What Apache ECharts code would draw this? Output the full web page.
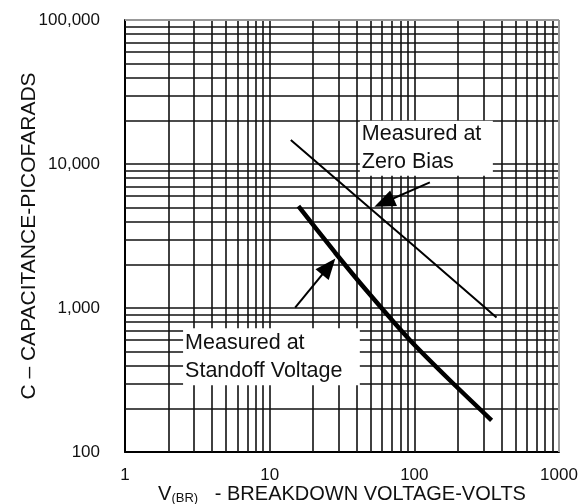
<!DOCTYPE html>
<html>
<head>
<meta charset="utf-8">
<script src="https://cdn.jsdelivr.net/npm/echarts@6/dist/echarts.min.js"></script>
<style>
  html, body { margin: 0; padding: 0; background: #fff; }
  #chart { width: 584px; height: 504px; }
</style>
</head>
<body>
<div id="chart"></div>
<script>
// breakdown voltage (V) vs capacitance (pF)
const zeroBias = [[14, 14700], [30, 7600], [60, 4170], [100, 2680], [200, 1470], [370, 860]];
const standoff = [[15.8, 5100], [28.3, 2430], [48, 1280], [93, 600], [176, 315], [342, 166]];

// log grid positions
const xGrid = [2, 3, 4, 5, 6, 7, 8, 9, 10, 20, 30, 40, 50, 60, 70, 80, 90, 100, 200, 300, 400, 500, 600, 700, 800, 900];
const yGrid = [200, 300, 400, 500, 600, 700, 800, 900, 1000, 2000, 3000, 4000, 5000, 6000, 7000, 8000, 9000,
  10000, 20000, 30000, 40000, 50000, 60000, 70000, 80000, 90000];

const xTickLabels = { 1: '1', 10: '10', 100: '100', 1000: '1000' };
const yTickLabels = { 100: '100', 1000: '1,000', 10000: '10,000', 100000: '100,000' };

// annotation boxes and arrows (data coords)
const zeroBiasBox = [[42, 19950], [349, 8300]];
const standoffBox = [[2.52, 722], [42, 291]];
const zeroBiasArrow = [[128, 7450], [61.7, 5400]];
const standoffArrow = [[15, 1005], [25.6, 1940]];

const font = 'Liberation Sans, Arial, sans-serif';
const chart = echarts.init(document.getElementById('chart'));

const gridLines = []
  .concat(xGrid.map((v) => ({ xAxis: v })))
  .concat(yGrid.map((v) => ({ yAxis: v })));
gridLines.push({ xAxis: 1000, lineStyle: { color: '#999', width: 2 } });
gridLines.push({ yAxis: 100000, lineStyle: { color: '#999', width: 2 } });

const option = {
  animation: false,
  backgroundColor: '#fff',
  grid: { left: 125, right: 25, top: 20, bottom: 52, containLabel: false, outerBoundsMode: 'none' },
  xAxis: {
    type: 'log',
    logBase: 10,
    min: 1,
    max: 1000,
    axisLine: { show: true, lineStyle: { color: '#000', width: 2 } },
    axisTick: { show: false },
    splitLine: { show: false },
    axisLabel: {
      margin: 15,
      color: '#111',
      fontSize: 17,
      fontFamily: font,
      formatter: (v) => xTickLabels[Math.round(v)] || ''
    },
    name: '{v|V}{s|(BR)}{t|   - BREAKDOWN VOLTAGE-VOLTS}',
    nameLocation: 'middle',
    nameMoveOverlap: false,
    nameGap: 32,
    nameTextStyle: {
      verticalAlign: 'top',
      rich: {
        v: { fontSize: 20, fontFamily: font, color: '#111' },
        s: { fontSize: 13, fontFamily: font, color: '#111', padding: [8, 0, 0, 0] },
        t: { fontSize: 20, fontFamily: font, color: '#111' }
      }
    }
  },
  yAxis: {
    type: 'log',
    logBase: 10,
    min: 100,
    max: 100000,
    axisLine: { show: true, lineStyle: { color: '#000', width: 2 } },
    axisTick: { show: false },
    splitLine: { show: false },
    axisLabel: {
      margin: 25,
      color: '#111',
      fontSize: 17,
      fontFamily: font,
      formatter: (v) => yTickLabels[Math.round(v)] || ''
    },
    name: 'C – CAPACITANCE-PICOFARADS',
    nameLocation: 'middle',
    nameMoveOverlap: false,
    nameGap: 85,
    nameTextStyle: { fontSize: 21, fontFamily: font, color: '#111' }
  },
  series: [
    {
      type: 'line',
      data: [],
      silent: true,
      markLine: {
        z: 1,
        silent: true,
        symbol: 'none',
        label: { show: false },
        lineStyle: { color: '#111', width: 1.6, type: 'solid' },
        data: gridLines
      }
    },
    {
      type: 'line',
      data: [],
      silent: true,
      markArea: {
        z: 3,
        silent: true,
        itemStyle: { color: '#fff' },
        label: {
          show: true,
          position: 'insideLeft',
          distance: 2,
          color: '#111',
          fontSize: 21.5,
          lineHeight: 28,
          fontFamily: font
        },
        data: [
          [{ name: 'Measured at\nZero Bias', coord: zeroBiasBox[0] }, { coord: zeroBiasBox[1] }],
          [{ name: 'Measured at\nStandoff Voltage', coord: standoffBox[0] }, { coord: standoffBox[1] }]
        ]
      }
    },
    {
      name: 'Zero Bias',
      type: 'line',
      z: 5,
      showSymbol: false,
      smooth: false,
      lineStyle: { color: '#000', width: 2 },
      data: zeroBias
    },
    {
      name: 'Standoff Voltage',
      type: 'line',
      z: 5,
      showSymbol: false,
      smooth: 0.2,
      lineStyle: { color: '#000', width: 4.5 },
      data: standoff
    },
    {
      type: 'line',
      data: [],
      silent: true,
      markLine: {
        z: 6,
        silent: true,
        symbol: ['none', 'triangle'],
        symbolSize: [17, 21],
        label: { show: false },
        lineStyle: { color: '#000', width: 2, type: 'solid' },
        itemStyle: { color: '#000' },
        data: [
          [{ coord: zeroBiasArrow[0] }, { coord: zeroBiasArrow[1] }],
          [{ coord: standoffArrow[0] }, { coord: standoffArrow[1] }]
        ]
      }
    }
  ]
};

chart.setOption(option);
</script>
</body>
</html>
